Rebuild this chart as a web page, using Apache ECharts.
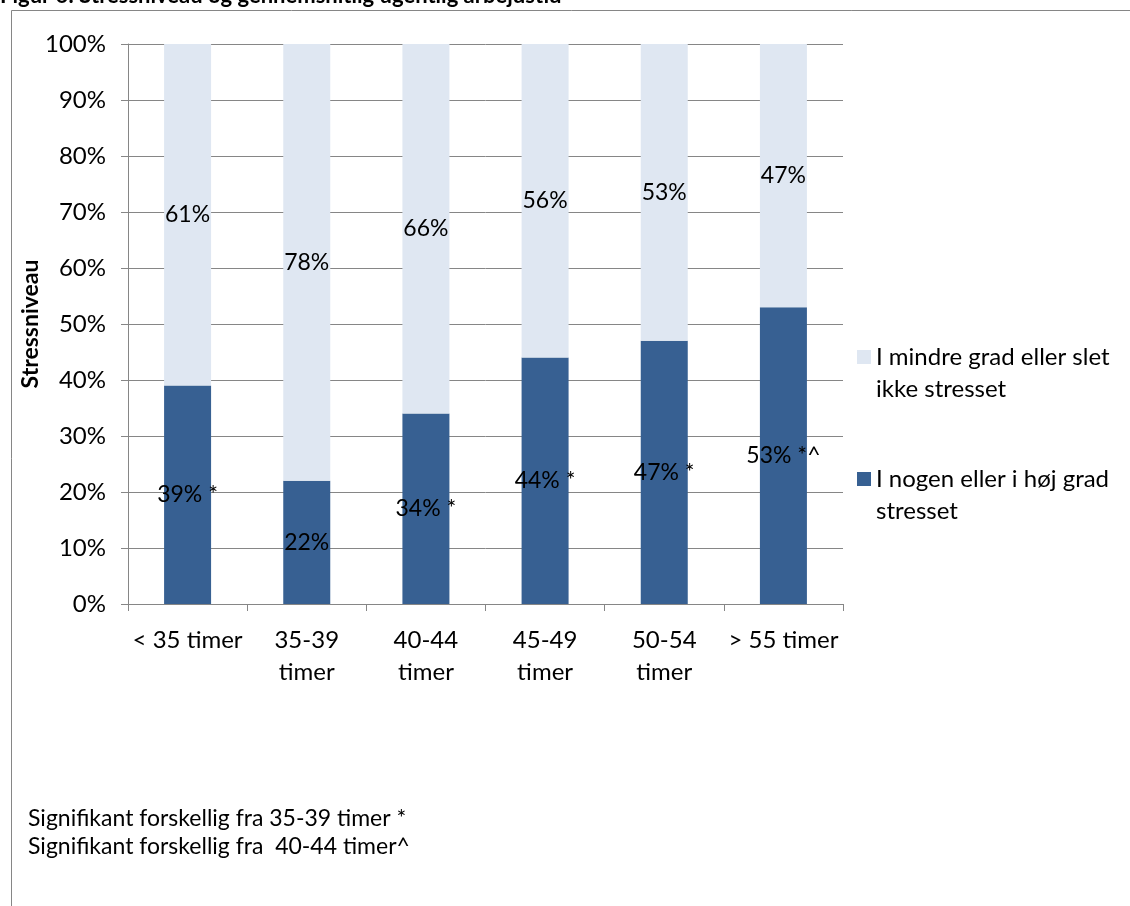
<!DOCTYPE html>
<html lang="da">
<head>
    <meta charset="UTF-8"/>
    <script type="text/javascript" src="https://cdn.jsdelivr.net/npm/echarts@6/dist/echarts.min.js"></script>
    <title>Stressniveau</title>
    <style>
        html, body {margin: 0; padding: 0; background: #fff;}
        #main {width: 1130px; height: 906px;}
    </style>
</head>
<body>
<div id="main"></div>
<script type="text/javascript">
    // kategorier og værdier (procent)
    var categories = ['< 35 timer', '35-39\ntimer', '40-44\ntimer', '45-49\ntimer', '50-54\ntimer', '> 55 timer']
    var stressed = [39, 22, 34, 44, 47, 53]
    var notStressed = [61, 78, 66, 56, 53, 47]
    var stressedMarks = [' *', '', ' *', ' *', ' *', ' *^']
    var yTicks = [0, 10, 20, 30, 40, 50, 60, 70, 80, 90, 100]

    var font = 'Lato'
    var gray = '#868686'

    // firkant øverst i en høj ikonboks, så den står ud for første tekstlinje
    var legendIcon = 'path://M0,0L14,0L14,14L0,14Z M0,46L0,46'

    var myChart = echarts.init(document.getElementById('main'))

    var option = {
        animation: false,
        textStyle: {fontFamily: font},
        grid: {left: 128, right: 287, top: 44, bottom: 302},
        legend: {
            orient: 'vertical',
            left: 852,
            top: 336,
            itemWidth: 14,
            itemHeight: 46,
            itemGap: 58,
            icon: legendIcon,
            data: ['I mindre grad eller slet\nikke stresset', 'I nogen eller i høj grad\nstresset'],
            textStyle: {fontSize: 24, color: '#000', lineHeight: 32, fontFamily: font}
        },
        xAxis: {
            type: 'category',
            data: categories,
            axisLine: {lineStyle: {color: gray, width: 1}},
            axisTick: {show: true, length: 7, lineStyle: {color: gray}},
            axisLabel: {color: '#000', fontSize: 24, lineHeight: 32, margin: 20, interval: 0, fontFamily: font}
        },
        yAxis: {
            type: 'value',
            min: yTicks[0],
            max: yTicks[yTicks.length - 1],
            interval: 10,
            name: 'Stressniveau',
            nameLocation: 'middle',
            nameGap: 86,
            nameMoveOverlap: false,
            nameTextStyle: {fontSize: 23, fontWeight: 'bold', color: '#000', fontFamily: font},
            axisLine: {show: true, lineStyle: {color: gray, width: 1}},
            axisTick: {show: true, length: 7, lineStyle: {color: gray}},
            axisLabel: {color: '#000', fontSize: 24, margin: 22, formatter: '{value}%', fontFamily: font},
            splitLine: {lineStyle: {color: gray, width: 1}}
        },
        series: [
            {
                name: 'I nogen eller i høj grad\nstresset',
                type: 'bar',
                stack: 'total',
                barWidth: 47,
                data: stressed,
                itemStyle: {color: '#376092'},
                label: {
                    show: true,
                    position: 'inside',
                    color: '#000',
                    fontSize: 23,
                    fontFamily: font,
                    formatter: function (p) {
                        return p.value + '%' + stressedMarks[p.dataIndex]
                    }
                }
            },
            {
                name: 'I mindre grad eller slet\nikke stresset',
                type: 'bar',
                stack: 'total',
                barWidth: 47,
                data: notStressed,
                itemStyle: {color: '#dfe7f2'},
                label: {
                    show: true,
                    position: 'inside',
                    color: '#000',
                    fontSize: 23,
                    fontFamily: font,
                    formatter: '{c}%'
                }
            }
        ],
        graphic: [
            {
                type: 'rect',
                left: 9,
                top: 8,
                shape: {width: 1300, height: 1000},
                style: {fill: 'none', stroke: gray, lineWidth: 1},
                silent: true
            },
            {
                type: 'text',
                left: 0,
                top: -15,
                style: {
                    text: 'Figur 6: Stressniveau og gennemsnitlig ugentlig arbejdstid',
                    font: 'bold 22px Lato',
                    fill: '#000'
                }
            },
            {
                type: 'text',
                left: 28,
                top: 805,
                style: {
                    text: 'Signifikant forskellig fra 35-39 timer *\nSignifikant forskellig fra  40-44 timer^',
                    font: '23px Lato',
                    lineHeight: 28,
                    fill: '#000'
                }
            }
        ]
    }

    myChart.setOption(option)
</script>
</body>
</html>
